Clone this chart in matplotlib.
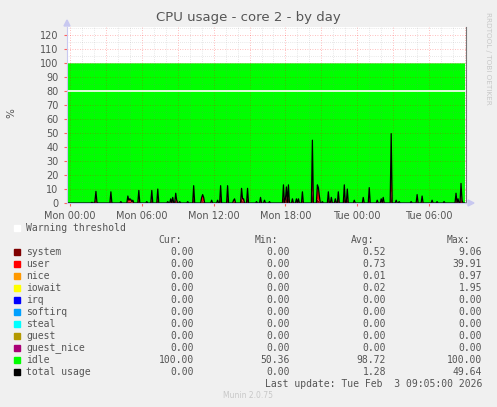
import numpy as np
import matplotlib
matplotlib.use("Agg")
import matplotlib.pyplot as plt
from matplotlib.ticker import MultipleLocator, FixedLocator

# ---- data -------------------------------------------------------------
# 400 five-minute samples, starting Sun 23:45 (slot 0); Mon 00:00 = slot 3
n_slots = 400
spike_slot = [0, 25, 28, 29, 30, 44, 54, 61, 62, 63, 64, 65, 66, 72, 80, 85, 91,
              101, 104, 106, 109, 110, 113, 121, 127, 135, 136, 137, 145, 151,
              154, 161, 167, 168, 175, 176, 177, 181, 190, 194, 198, 203, 217,
              219, 220, 222, 226, 230, 232, 236, 246, 251, 252, 253, 256, 262,
              265, 269, 272, 278, 281, 288, 297, 303, 311, 315, 317, 325, 330,
              333, 345, 351, 356, 366, 371, 378, 390, 392, 395, 396]
spike_system = [0.4, 0.2, 0.4, 3.3, 0.2, 3.2, 0.4, 2.0, 0.8, 1.2, 1.0, 0.4, 0.8,
                3.6, 0.4, 3.6, 4.0, 0.4, 1.2, 1.6, 2.8, 0.8, 0.4, 0.4, 5.0, 1.0,
                1.5, 1.0, 0.8, 0.8, 5.0, 5.0, 0.8, 1.2, 4.2, 1.2, 1.2, 4.2, 0.4,
                1.6, 0.8, 0.4, 5.2, 1.2, 4.6, 5.2, 1.2, 1.2, 1.2, 3.2, 9.06, 3.0,
                2.0, 1.0, 0.4, 3.2, 1.6, 1.2, 3.2, 5.2, 4.0, 0.8, 1.6, 4.4, 0.8,
                1.2, 1.6, 8.6, 0.8, 0.4, 0.4, 2.4, 2.0, 0.8, 0.4, 0.4, 2.8, 1.2,
                5.6, 0.8]
spike_user = [0.6, 0.3, 0.6, 5.0, 0.3, 4.8, 0.6, 3.0, 1.2, 1.8, 1.5, 0.6, 1.2,
              5.4, 0.6, 5.4, 6.0, 0.6, 1.8, 2.4, 4.2, 1.2, 0.6, 0.6, 7.4, 3.0,
              4.5, 3.0, 1.2, 1.2, 7.4, 7.4, 1.2, 1.8, 6.3, 1.8, 1.8, 6.3, 0.6,
              2.4, 1.2, 0.6, 7.8, 1.8, 6.9, 7.8, 1.8, 1.8, 1.8, 4.8, 35.9, 10.0,
              9.0, 4.0, 0.6, 4.8, 2.4, 1.8, 4.8, 7.8, 6.0, 1.2, 2.4, 6.6, 1.2,
              1.8, 2.4, 39.91, 1.2, 0.6, 0.6, 3.6, 3.0, 1.2, 0.6, 0.6, 4.2, 1.8,
              8.4, 1.2]
spike_iowait = [0.0] * len(spike_slot)
spike_iowait[spike_slot.index(325)] = 1.13

labels = ["system", "user", "nice", "iowait", "irq", "softirq", "steal",
          "guest", "guest_nice", "idle", "total usage"]
colors = ["#7E0000", "#FF0000", "#FF9900", "#FFFF00", "#0000FF", "#00A0FF",
          "#00FFFF", "#B39800", "#AA0077", "#00FF00", "#000000"]
cur = ["0.00", "0.00", "0.00", "0.00", "0.00", "0.00", "0.00", "0.00", "0.00", "100.00", "0.00"]
mins = ["0.00", "0.00", "0.00", "0.00", "0.00", "0.00", "0.00", "0.00", "0.00", "50.36", "0.00"]
avgs = ["0.52", "0.73", "0.01", "0.02", "0.00", "0.00", "0.00", "0.00", "0.00", "98.72", "1.28"]
maxs = ["9.06", "39.91", "0.97", "1.95", "0.00", "0.00", "0.00", "0.00", "0.00", "100.00", "49.64"]
warning = 80
tick_hours = [0, 6, 12, 18, 24, 30]
tick_labels = ["Mon 00:00", "Mon 06:00", "Mon 12:00", "Mon 18:00", "Tue 00:00", "Tue 06:00"]

# ---- build series -------------------------------------------------------
hours = -0.25 + np.arange(n_slots) / 12.0
system = np.zeros(n_slots)
user = np.zeros(n_slots)
iowait = np.zeros(n_slots)
for s, a, b, c in zip(spike_slot, spike_system, spike_user, spike_iowait):
    system[s] = a
    user[s] = b
    iowait[s] = c
zero = np.zeros(n_slots)
total = system + user + iowait
idle = 100 - total
series = [system, user, zero, iowait, zero, zero, zero, zero, zero, idle]

# ---- figure -------------------------------------------------------------
W, H = 497, 407
fig = plt.figure(figsize=(W / 100, H / 100), dpi=100, facecolor="#F0F0F0")
x0, x1, ytop, ybot = 67, 466, 27, 203
ax = fig.add_axes([x0 / W, 1 - ybot / H, (x1 - x0) / W, (ybot - ytop) / H])
ax.set_facecolor("white")
ax.stackplot(hours, *series, colors=colors[:10], linewidth=0, zorder=1)
ax.plot(hours, total, color="black", lw=0.9, zorder=4)
ax.axhline(warning, color="white", lw=1.2, zorder=5)

ax.set_xlim(hours[0], hours[0] + n_slots / 12.0)
ax.set_ylim(0, 126)

ax.xaxis.set_major_locator(FixedLocator(tick_hours))
ax.set_xticklabels(tick_labels)
ax.yaxis.set_major_locator(MultipleLocator(10))

major_c = (1.0, 0.0, 0.0, 0.35)
minor_c = (0.5, 0.5, 0.5, 0.35)
for h in np.arange(0, 34, 1):
    if h % 3 == 0:
        ax.axvline(h, color=major_c, lw=0.6, ls=(0, (1, 2)), zorder=3)
    else:
        ax.axvline(h, color=minor_c, lw=0.5, ls=(0, (1, 2)), zorder=3)
for v in np.arange(5, 126, 5):
    if v % 10 == 0:
        ax.axhline(v, color=major_c, lw=0.6, ls=(0, (1, 2)), zorder=3)
    else:
        ax.axhline(v, color=minor_c, lw=0.5, ls=(0, (1, 2)), zorder=3)

ax.spines["top"].set_visible(False)
ax.spines["left"].set_color("#C8C8F0")
ax.spines["bottom"].set_color("#C8C8F0")
ax.spines["right"].set_color("#777777")
ax.spines["left"].set_zorder(6)
ax.spines["bottom"].set_zorder(6)
ax.tick_params(axis="both", which="both", labelsize=7, colors="#555555")
ax.tick_params(axis="x", which="major", length=2, color="#FF6060", direction="out", pad=4)
ax.tick_params(axis="y", which="major", length=2, color="#FF6060", direction="out", pad=4)
for lbl in ax.get_xticklabels() + ax.get_yticklabels():
    lbl.set_color("#555555")

# axis arrows
fig.patches.append(plt.Polygon([[x0 - 3, H - ytop + 1], [x0 + 3, H - ytop + 1], [x0, H - ytop + 7]],
                               closed=True, transform=None, color="#C8C8F0"))
fig.patches.append(plt.Polygon([[x1 + 2, H - ybot - 3], [x1 + 2, H - ybot + 3], [x1 + 8, H - ybot]],
                               closed=True, transform=None, color="#C8C8F0"))

fig.text(0.5, 1 - 18 / H, "CPU usage - core 2 - by day", ha="center", va="center",
         fontsize=9.5, color="#555555")
fig.text(11 / W, 1 - 113 / H, "%", rotation=90, ha="center", va="center",
         fontsize=7.5, color="#555555")
fig.text(488 / W, 1 - 58 / H, "RRDTOOL / TOBI OETIKER", rotation=270, ha="center",
         va="center", fontsize=5.2, color="#C8C8C8")

mono = "DejaVu Sans Mono"
fs = 7
tc = "#555555"


def ty(y):
    return 1 - y / H


fig.patches.append(plt.Rectangle((14 / W, ty(231)), 6 / W, 6 / H, transform=fig.transFigure,
                                 color="white"))
fig.text(26 / W, ty(228), "Warning threshold", family=mono, fontsize=fs, color=tc, va="center")
for xr, hd in zip([182, 278, 374, 470], ["Cur:", "Min:", "Avg:", "Max:"]):
    fig.text(xr / W, ty(240), hd, family=mono, fontsize=fs, color=tc, va="center", ha="right")
for i, lab in enumerate(labels):
    y = 252 + 12 * i
    fig.patches.append(plt.Rectangle((14 / W, ty(y + 3)), 6 / W, 6 / H, transform=fig.transFigure,
                                     color=colors[i]))
    fig.text(26 / W, ty(y), lab, family=mono, fontsize=fs, color=tc, va="center")
    for xr, val in zip([194, 290, 386, 482], [cur[i], mins[i], avgs[i], maxs[i]]):
        fig.text(xr / W, ty(y), val, family=mono, fontsize=fs, color=tc, va="center", ha="right")
fig.text(482 / W, ty(384), "Last update: Tue Feb  3 09:05:00 2026", family=mono, fontsize=fs,
         color=tc, va="center", ha="right")
fig.text(248 / W, ty(396), "Munin 2.0.75", fontsize=5.5, color="#C8C8C8", va="center", ha="center")

fig.savefig("out.png", dpi=100, facecolor=fig.get_facecolor())
